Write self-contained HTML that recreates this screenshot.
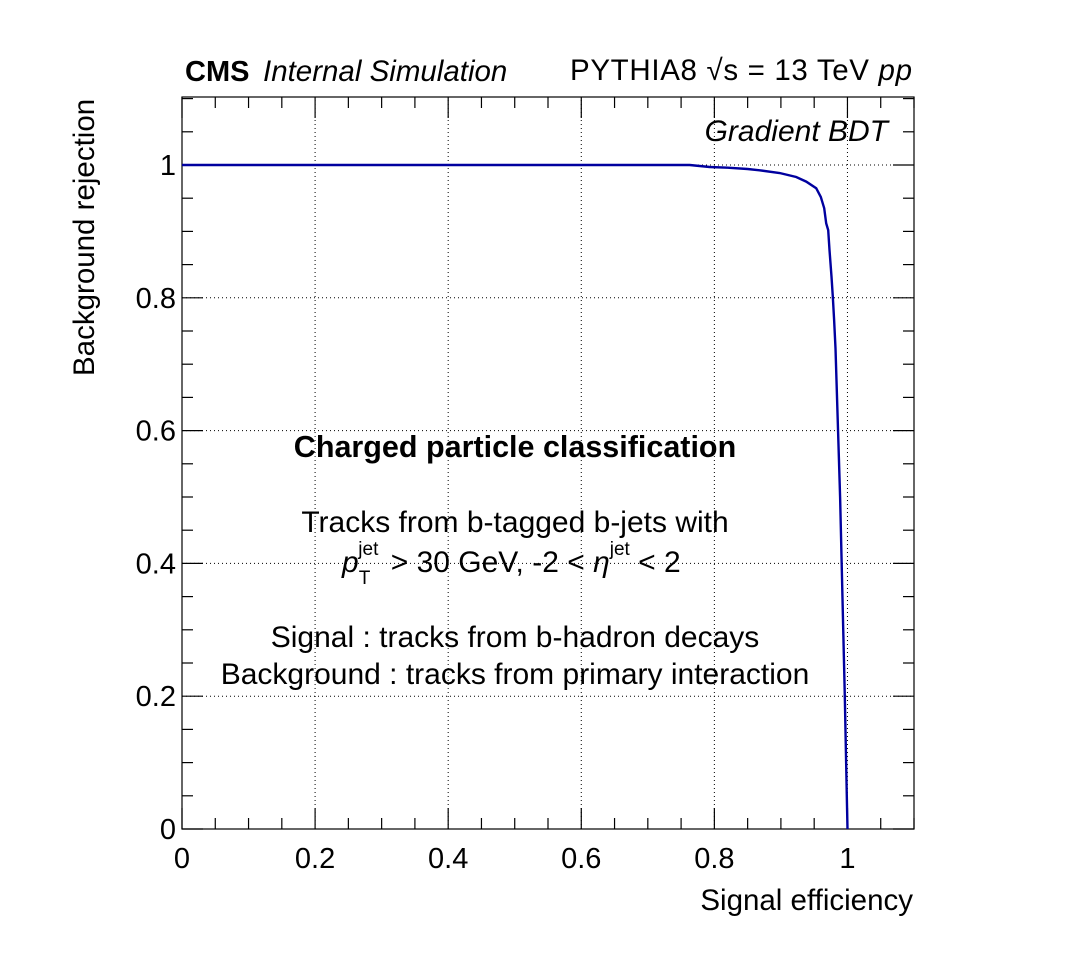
<!DOCTYPE html>
<html><head><meta charset="utf-8"><style>
html,body{margin:0;padding:0;background:#fff;}
svg{display:block;font-family:"Liberation Sans",Arial,sans-serif;}
</style></head><body>
<svg id="chart" width="1076" height="976" viewBox="0 0 1076 976">
<g id="grid"></g>
<g id="axes"></g>
<path id="curve" fill="none" stroke="#00009f" stroke-width="2.4"/>
<text x="185" y="81" font-size="29" font-weight="bold">CMS</text>
<text x="263" y="81" font-size="29.5" font-style="italic">Internal Simulation</text>
<text x="570" y="80" font-size="29.5" textLength="342" lengthAdjust="spacing">PYTHIA8  √s = 13 TeV  <tspan font-style="italic">pp</tspan></text>
<text x="888" y="141" font-size="30" font-style="italic" text-anchor="end">Gradient BDT</text>
<text x="515" y="457" font-size="30.5" font-weight="bold" text-anchor="middle">Charged particle classification</text>
<text x="515" y="532" font-size="30" text-anchor="middle">Tracks from b-tagged b-jets with</text>
<text x="342" y="572" font-size="30"><tspan font-style="italic">p</tspan><tspan font-size="19" dy="12">T</tspan><tspan font-size="19" dx="-12" dy="-29">jet</tspan><tspan dx="4" dy="17"> &gt; 30 GeV, -2 &lt; </tspan><tspan font-style="italic">η</tspan><tspan font-size="19" dy="-17">jet</tspan><tspan dy="17"> &lt; 2</tspan></text>
<text x="515" y="647" font-size="30" text-anchor="middle">Signal : tracks from b-hadron decays</text>
<text x="515" y="684" font-size="30" text-anchor="middle">Background : tracks from primary interaction</text>
<text x="913" y="910" font-size="29.5" text-anchor="end">Signal efficiency</text>
<text transform="translate(94,376) rotate(-90)" font-size="29.5">Background rejection</text>
</svg>
<script>
const effValues = [0, 0.70, 0.763, 0.793, 0.820, 0.850, 0.868, 0.898, 0.923, 0.938, 0.953, 0.960, 0.965, 0.968, 0.971, 0.973, 0.976, 0.978, 0.980, 0.982, 0.989, 0.996, 0.999, 1.0];
const rejValues = [1, 1.0, 1.0, 0.997, 0.996, 0.994, 0.992, 0.988, 0.982, 0.975, 0.965, 0.952, 0.935, 0.912, 0.902, 0.872, 0.832, 0.802, 0.767, 0.724, 0.5, 0.2, 0.05, 0.0];
const xTicks = [0, 0.2, 0.4, 0.6, 0.8, 1];
const yTicks = [0, 0.2, 0.4, 0.6, 0.8, 1];
const X0=182, X1=914, Y0=829, Y1=97, XMAX=1.1, YMAX=732/664;
function sx(v){return X0+v/XMAX*(X1-X0);}
function sy(v){return Y0-v/YMAX*(Y0-Y1);}
const NS="http://www.w3.org/2000/svg";
function mk(tag,attrs,parent){const e=document.createElementNS(NS,tag);for(const k in attrs)e.setAttribute(k,attrs[k]);parent.appendChild(e);return e;}
const grid=document.getElementById('grid'), axes=document.getElementById('axes');
xTicks.forEach(t=>{if(t>0){const l=mk('line',{x1:sx(t),x2:sx(t),y1:Y0,y2:Y1,stroke:'#000','stroke-width':1,'stroke-dasharray':'1,3'},grid);

}});
yTicks.forEach(t=>{if(t>0){const l=mk('line',{x1:X0,x2:X1,y1:sy(t),y2:sy(t),stroke:'#000','stroke-width':1,'stroke-dasharray':'1,3'},grid);

}});
const fr=mk('rect',{x:X0,y:Y1,width:X1-X0,height:Y0-Y1,fill:'none',stroke:'#000','stroke-width':1.2},axes);


for(let i=0;i<=22;i++){const v=i*0.05;const len=(i%4==0)?21:11;
mk('line',{x1:sx(v),x2:sx(v),y1:Y0,y2:Y0-len,stroke:'#000','stroke-width':1.2},axes);
mk('line',{x1:sx(v),x2:sx(v),y1:Y1,y2:Y1+len,stroke:'#000','stroke-width':1.2},axes);
if(v<=YMAX){
mk('line',{x1:X0,x2:X0+len,y1:sy(v),y2:sy(v),stroke:'#000','stroke-width':1.2},axes);
mk('line',{x1:X1,x2:X1-len,y1:sy(v),y2:sy(v),stroke:'#000','stroke-width':1.2},axes);}}
xTicks.forEach(t=>{const tx=mk('text',{x:sx(t),y:Y0+39,'font-size':29,'text-anchor':'middle'},axes);tx.textContent=String(t);

});
yTicks.forEach(t=>{const tx=mk('text',{x:X0-6,y:sy(t)+10,'font-size':29,'text-anchor':'end'},axes);tx.textContent=String(t);

});
document.getElementById('curve').setAttribute('d',effValues.map((e,i)=>(i?'L':'M')+sx(e).toFixed(1)+','+sy(rejValues[i]).toFixed(1)).join(' '));
</script>
</body></html>
